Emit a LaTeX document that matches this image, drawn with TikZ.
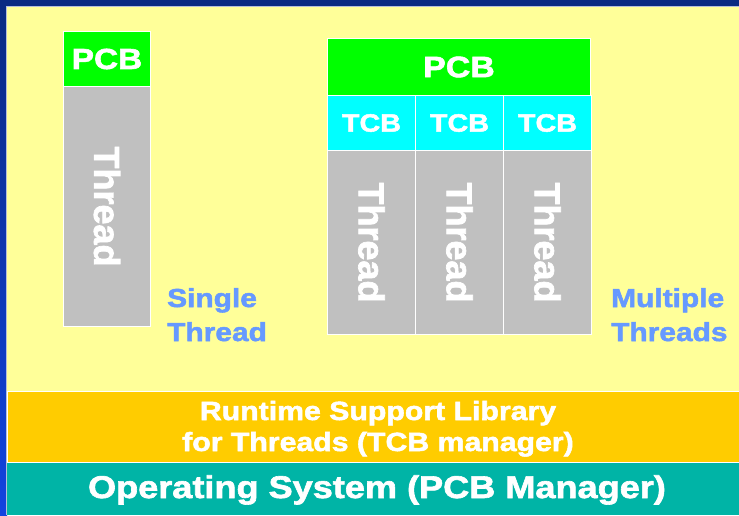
\documentclass[tikz,border=0pt]{standalone}
\usepackage{fontspec}
\setmainfont{Liberation Sans}
\newfontfamily\heavy{Liberation Sans Bold}[FakeBold=2]
\newfontfamily\wideheavy{Liberation Sans Bold}[FakeBold=2, FakeStretch=1.15]
\definecolor{frameblue}{HTML}{0A2A82}
\definecolor{frameblueB}{HTML}{1244E0}
\definecolor{bgyellow}{HTML}{FFFF99}
\definecolor{pcbgreen}{HTML}{00FF00}
\definecolor{tcbcyan}{HTML}{00FFFF}
\definecolor{thrgray}{HTML}{C0C0C0}
\definecolor{liborange}{HTML}{FFCC00}
\definecolor{osteal}{HTML}{00B4A6}
\definecolor{lblblue}{HTML}{6699FF}
\tikzset{
  box/.style={draw=white, line width=1pt, inner sep=0pt},
  pcbbox/.style={box, fill=pcbgreen, text=white},
  tcbbox/.style={box, fill=tcbcyan, text=white, font=\fontsize{25}{25}\wideheavy},
  thrbox/.style={box, fill=thrgray},
  thrtext/.style={text=white, rotate=-90, font=\fontsize{36}{36}\heavy, inner sep=0pt},
  lbl/.style={text=lblblue, font=\fontsize{26}{26}\wideheavy, inner sep=0pt, anchor=base west},
  bandtext/.style={text=white, inner sep=0pt, anchor=base}
}
\begin{document}
\begin{tikzpicture}[x=1pt, y=-1pt]
\useasboundingbox (0,0) rectangle (739,515);
% frame and background
\fill[frameblue] (0,0) rectangle (739,515);
\shade[top color=frameblue, bottom color=frameblueB] (0,0) rectangle (7,515);
\fill[bgyellow] (7,7) rectangle (739,515);
\draw[white!70!frameblue, line width=0.8pt] (6.5,515) -- (6.5,6.5) -- (739,6.5);
% single thread
\node[pcbbox, minimum width=87pt, minimum height=55pt, anchor=north west, font=\fontsize{29}{29}\wideheavy] (spcb) at (63,31) {PCB};
\node[thrbox, minimum width=87pt, minimum height=240pt, anchor=north west] (sthr) at (63,86) {};
\node[thrtext] (sthrt) at (sthr.center) {Thread};
\node[lbl] (slbl1) at (167,307) {Single};
\node[lbl] (slbl2) at (167,341) {Thread};
% multiple threads
\node[pcbbox, minimum width=263pt, minimum height=57pt, anchor=north west, font=\fontsize{29.5}{29.5}\wideheavy] (mpcb) at (327,38) {PCB};
\foreach \i/\x in {1/327,2/415,3/503}{
  \node[tcbbox, minimum width=88pt, minimum height=55pt, anchor=north west] (tcb\i) at (\x,95) {TCB};
  \node[thrbox, minimum width=88pt, minimum height=184pt, anchor=north west] (mthr\i) at (\x,150) {};
  \node[thrtext] (mthrt\i) at (mthr\i.center) {Thread};
}
\node[lbl] (mlbl1) at (611,307) {Multiple};
\node[lbl] (mlbl2) at (611,341) {Threads};
% bottom bands
\node[draw=white, line width=1pt, fill=liborange, minimum width=733pt, minimum height=72pt, anchor=north west, inner sep=0pt] (lib) at (7,390.5) {};
\node[bandtext, font=\fontsize{26.3}{26}\wideheavy] (lib1) at (378,420) {Runtime Support Library};
\node[bandtext, font=\fontsize{26.3}{26}\wideheavy] (lib2) at (378,451) {for Threads (TCB manager)};
\fill[osteal] (7,462.5) rectangle (739,515);
\draw[white, line width=1pt] (7,462.5) -- (739,462.5);
\node[bandtext, font=\fontsize{31.4}{31}\wideheavy] (os) at (377,498) {Operating System (PCB Manager)};
\end{tikzpicture}
\end{document}
